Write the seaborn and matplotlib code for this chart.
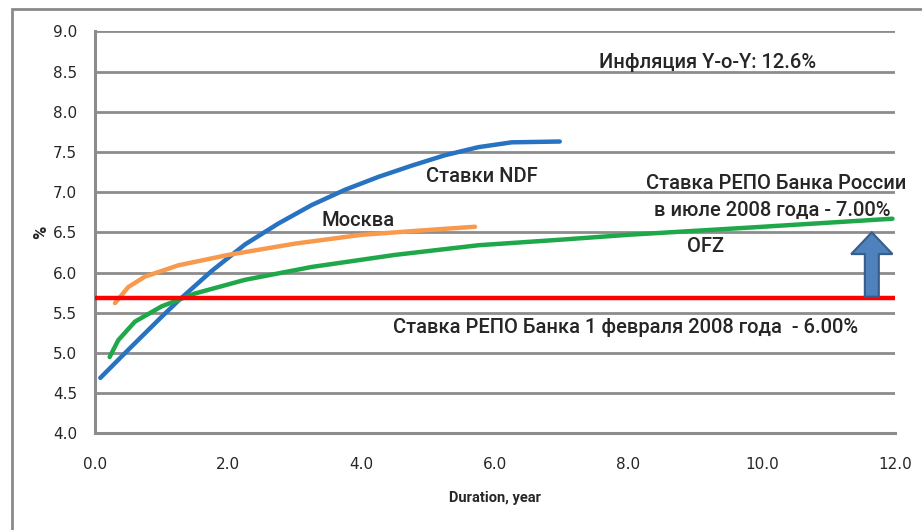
import pandas as pd
import numpy as np
import matplotlib
matplotlib.use("Agg")
import matplotlib.pyplot as plt
import seaborn as sns
from matplotlib.patches import Rectangle, FancyArrow

# Yield curves
ndf_x = [0.08, 0.5, 1.0, 1.25, 1.75, 2.25, 2.75, 3.25, 3.75, 4.25, 4.75, 5.25, 5.75, 6.25, 6.97]
ndf_y = [4.69, 5.04, 5.45, 5.65, 6.02, 6.35, 6.61, 6.84, 7.03, 7.19, 7.33, 7.46, 7.56, 7.62, 7.63]

msk_x = [0.30, 0.5, 0.75, 1.25, 2.0, 3.0, 4.0, 5.0, 5.7]
msk_y = [5.62, 5.82, 5.95, 6.09, 6.22, 6.36, 6.47, 6.53, 6.57]

ofz_x = [0.22, 0.35, 0.6, 1.0, 1.5, 2.25, 3.25, 4.5, 5.75, 7.0, 8.0, 9.82, 11.96]
ofz_y = [4.95, 5.16, 5.39, 5.58, 5.74, 5.91, 6.07, 6.22, 6.34, 6.41, 6.47, 6.56, 6.67]

repo_x = [0.0, 12.0]
repo_y = [5.68, 5.68]

# arrow: from old repo level up toward the new one
arrow_x = 11.65
arrow_from = 5.70
arrow_to = 6.50

y_ticks = [4.0, 4.5, 5.0, 5.5, 6.0, 6.5, 7.0, 7.5, 8.0, 8.5, 9.0]
x_ticks = [0.0, 2.0, 4.0, 6.0, 8.0, 10.0, 12.0]

df = pd.concat([
    pd.DataFrame({"x": ndf_x, "y": ndf_y, "s": "NDF"}),
    pd.DataFrame({"x": msk_x, "y": msk_y, "s": "Moscow"}),
    pd.DataFrame({"x": ofz_x, "y": ofz_y, "s": "OFZ"}),
    pd.DataFrame({"x": repo_x, "y": repo_y, "s": "REPO"}),
])
palette = {"NDF": "#2872c2", "Moscow": "#f79a4e", "OFZ": "#1fa84a", "REPO": "#ff0000"}

sns.set_style("white")
plt.rcParams["font.family"] = ["DejaVu Sans"]
lab = ["Roboto", "DejaVu Sans"]

fig = plt.figure(figsize=(9.22, 5.30), dpi=100)
ax = fig.add_axes([0.103, 0.1823, 0.8679, 0.7585])

grid_c = "#8c8c8c"
for v in y_ticks[1:]:
    ax.axhline(v, color=grid_c, lw=2.0, zorder=0)

sns.lineplot(data=df, x="x", y="y", hue="s", palette=palette, lw=3.2,
             legend=False, ax=ax, zorder=3, sort=False)
for ln in ax.lines:
    ln.set_solid_joinstyle("round")
    ln.set_solid_capstyle("round")

ax.set_xlim(0, 12)
ax.set_ylim(4.0, 9.0)
ax.set_xticks(x_ticks)
ax.set_yticks(y_ticks)
ax.set_xticklabels([f"{v:.1f}" for v in x_ticks], fontsize=11)
ax.set_yticklabels([f"{v:.1f}" for v in y_ticks], fontsize=11)
ax.tick_params(axis="y", direction="out", length=7, width=2, color=grid_c, pad=6)
ax.tick_params(axis="x", direction="inout", length=10, width=2, color=grid_c, pad=12)
for side in ["top", "right"]:
    ax.spines[side].set_visible(False)
for side in ["left", "bottom"]:
    ax.spines[side].set_color(grid_c)
    ax.spines[side].set_linewidth(2.2)

ax.set_xlabel("Duration, year", family=lab, fontsize=10.5, fontweight="bold", labelpad=14)
ax.set_ylabel("%", family=lab, fontsize=13, fontweight="bold", labelpad=2)

arr = FancyArrow(arrow_x, arrow_from, 0, arrow_to - arrow_from, width=0.21,
                 head_width=0.62, head_length=0.27, length_includes_head=True,
                 fc="#4f81bd", ec="#385d8a", lw=1.5, zorder=4)
ax.add_patch(arr)

tkw = dict(family=lab, fontsize=14.5, fontweight="medium", ha="center", va="center", zorder=5)
ax.text(9.19, 8.61, "Инфляция Y-o-Y: 12.6%", **tkw)
ax.text(5.80, 7.20, "Ставки NDF", **tkw)
ax.text(3.94, 6.65, "Москва", **tkw)
ax.text(10.22, 7.11, "Ставка РЕПО Банка России", **tkw)
ax.text(10.15, 6.77, "в июле 2008 года - 7.00%", **tkw)
ax.text(9.15, 6.32, "OFZ", **tkw)
ax.text(7.95, 5.32, "Ставка РЕПО Банка 1 февраля 2008 года  - 6.00%", **tkw)

# outer frame of the slide chart
fig.add_artist(Rectangle((12 / 922, -0.1), 1.1, 1 - 9 / 530 + 0.1, transform=fig.transFigure,
                         fill=False, ec="#8a8a8a", lw=2))

fig.savefig("out.png", dpi=100)
